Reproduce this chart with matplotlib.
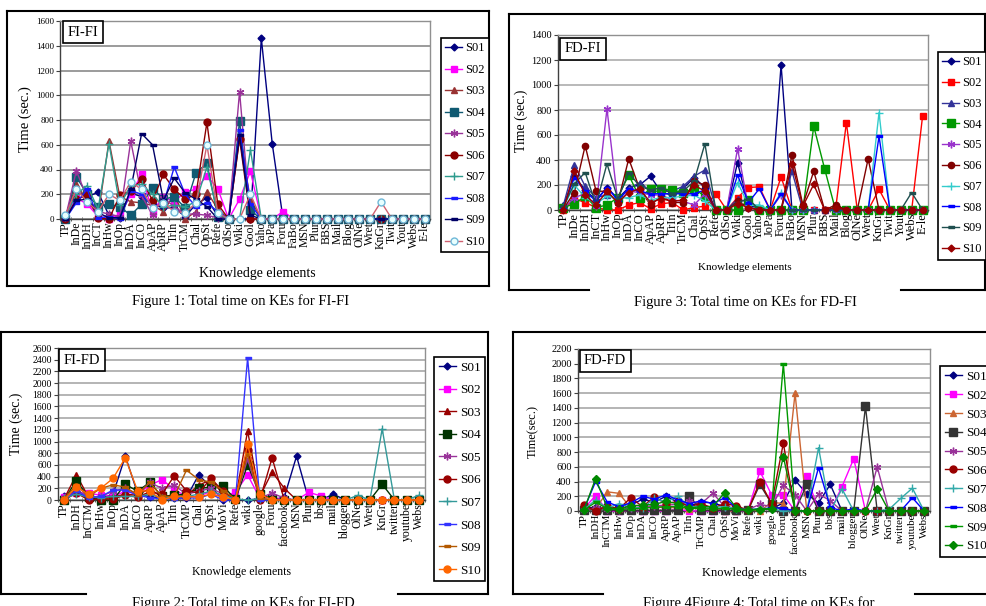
import matplotlib
matplotlib.use('Agg')
import matplotlib.pyplot as plt
from matplotlib.lines import Line2D

plt.rcParams['font.family'] = ['Liberation Serif', 'DejaVu Serif']

# ---------------- data ----------------
series_names = ['S01', 'S02', 'S03', 'S04', 'S05', 'S06', 'S07', 'S08', 'S09', 'S10']

cats_fi = ['TP', 'InDe', 'InDH', 'InCT', 'InHw', 'InOp', 'InDA', 'InCO', 'ApAP', 'ApRP',
           'TrIn', 'TrCM', 'Chal', 'OpSt', 'Refe', 'OlSo', 'Wiki', 'Gool', 'Yaho', 'JoPa',
           'Foru', 'FaBo', 'MSN', 'Plur', 'BBS', 'Mail', 'Blog', 'OlNe', 'Wret', 'KnGr',
           'Twit', 'Yout', 'Webs', 'E-le']

cats_fd = ['TP', 'InDH', 'InCTM', 'InHw', 'InOp', 'InDA', 'InCO', 'ApRP', 'ApAP', 'TrIn',
           'TrCMP', 'Chal', 'OpSt', 'MoVi', 'Refe', 'wiki', 'google', 'Foru', 'facebook', 'MSN',
           'Plur', 'bbs', 'mail', 'blogger', 'OlNe', 'Wret', 'KnGr', 'twitter', 'youtube', 'Webs']

# Figure 1: FI-FI
fifi_s01 = [0, 220, 180, 215, 30, 10, 210, 180, 120, 90, 90, 20, 120, 170, 20, 0, 0, 0, 1460, 610, 0, 0, 0, 0, 0, 0, 0, 0, 0, 0, 0, 0, 0, 0]
fifi_s02 = [10, 170, 120, 20, 0, 40, 200, 360, 60, 180, 140, 220, 240, 350, 245, 0, 160, 385, 0, 0, 60, 0, 0, 0, 0, 0, 0, 0, 0, 0, 0, 0, 0, 0]
fifi_s03 = [20, 280, 150, 30, 630, 180, 140, 130, 110, 60, 200, 0, 60, 220, 80, 0, 650, 160, 0, 0, 0, 0, 0, 0, 0, 0, 0, 0, 0, 0, 0, 0, 0, 0]
fifi_s04 = [0, 340, 200, 100, 120, 100, 30, 120, 250, 160, 180, 90, 375, 450, 20, 0, 790, 70, 0, 0, 0, 0, 0, 0, 0, 0, 0, 0, 0, 0, 0, 0, 0, 0]
fifi_s05 = [10, 390, 170, 60, 40, 20, 630, 190, 30, 170, 100, 40, 40, 30, 10, 0, 1030, 0, 0, 0, 0, 0, 0, 0, 0, 0, 0, 0, 0, 0, 0, 0, 0, 0]
fifi_s06 = [0, 160, 190, 10, 0, 190, 230, 320, 150, 360, 240, 160, 200, 780, 120, 0, 650, 0, 0, 0, 0, 0, 0, 0, 0, 0, 0, 0, 0, 0, 0, 0, 0, 0]
fifi_s07 = [20, 200, 270, 80, 610, 110, 270, 280, 200, 100, 110, 100, 140, 420, 40, 0, 0, 560, 0, 0, 0, 0, 0, 0, 0, 0, 0, 0, 0, 0, 0, 0, 0, 0]
fifi_s08 = [0, 130, 240, 10, 20, 0, 230, 200, 100, 120, 420, 200, 100, 130, 60, 0, 720, 120, 0, 0, 0, 0, 0, 0, 0, 0, 0, 0, 0, 0, 0, 0, 0, 0]
fifi_s09 = [0, 150, 160, 50, 10, 10, 240, 690, 600, 150, 330, 210, 160, 100, 0, 0, 680, 30, 0, 0, 0, 0, 0, 0, 0, 0, 0, 0, 0, 0, 0, 0, 0, 0]
fifi_s10 = [30, 240, 140, 60, 200, 150, 300, 240, 90, 130, 60, 50, 130, 600, 50, 0, 0, 200, 0, 0, 0, 0, 0, 0, 0, 0, 0, 0, 0, 140, 0, 0, 0, 0]

# Figure 3: FD-FI
fdfi_s01 = [30, 270, 160, 80, 180, 90, 180, 200, 270, 140, 120, 170, 260, 180, 0, 0, 380, 30, 20, 0, 1160, 0, 0, 0, 0, 0, 0, 0, 0, 0, 0, 0, 0, 0]
fdfi_s02 = [0, 90, 60, 20, 0, 0, 40, 60, 10, 50, 60, 0, 20, 30, 130, 0, 100, 180, 185, 0, 265, 0, 0, 0, 0, 0, 700, 0, 0, 165, 0, 0, 0, 750]
fdfi_s03 = [40, 360, 190, 100, 120, 80, 170, 220, 150, 150, 150, 190, 270, 320, 10, 0, 90, 60, 20, 0, 0, 310, 0, 0, 0, 0, 0, 0, 0, 0, 0, 0, 0, 0]
fdfi_s04 = [20, 50, 110, 20, 40, 100, 280, 100, 170, 170, 160, 140, 170, 110, 0, 0, 0, 80, 0, 0, 0, 0, 0, 670, 330, 0, 0, 0, 0, 0, 0, 0, 0, 0]
fdfi_s05 = [10, 100, 130, 30, 810, 60, 150, 140, 120, 120, 80, 70, 40, 130, 0, 0, 490, 20, 0, 0, 120, 0, 0, 0, 0, 0, 0, 0, 0, 0, 0, 0, 0, 0]
fdfi_s06 = [10, 140, 515, 150, 150, 60, 410, 170, 40, 110, 60, 60, 230, 200, 0, 0, 70, 20, 0, 0, 0, 440, 40, 310, 0, 40, 0, 0, 410, 0, 0, 0, 0, 0]
fdfi_s07 = [20, 200, 100, 50, 110, 90, 100, 120, 80, 100, 100, 110, 120, 70, 0, 0, 220, 40, 40, 0, 140, 0, 0, 0, 0, 0, 0, 0, 0, 780, 0, 0, 0, 0]
fdfi_s08 = [20, 260, 150, 70, 180, 80, 170, 150, 130, 130, 130, 130, 130, 160, 0, 0, 280, 60, 170, 0, 130, 0, 0, 0, 0, 0, 0, 0, 0, 590, 0, 0, 0, 0]
fdfi_s09 = [30, 210, 300, 40, 370, 90, 300, 190, 160, 180, 130, 150, 230, 530, 0, 0, 60, 90, 0, 0, 0, 0, 0, 0, 0, 0, 0, 0, 0, 0, 0, 0, 140, 0]
fdfi_s10 = [0, 310, 120, 40, 150, 60, 140, 170, 60, 90, 70, 80, 200, 150, 0, 0, 50, 20, 0, 0, 0, 370, 30, 205, 0, 20, 0, 0, 0, 0, 0, 0, 0, 0]

# Figure 2: FI-FD
fifd_s01 = [60, 150, 20, 30, 100, 750, 120, 50, 40, 30, 40, 430, 220, 0, 10, 0, 20, 0, 50, 750, 0, 0, 100, 0, 0, 0, 0, 0, 0, 0]
fifd_s02 = [50, 120, 120, 80, 60, 150, 100, 250, 350, 180, 60, 60, 150, 60, 130, 430, 30, 50, 0, 0, 130, 70, 0, 0, 0, 0, 0, 0, 0, 0]
fifd_s03 = [20, 430, 50, 40, 50, 100, 80, 200, 40, 100, 80, 250, 350, 100, 10, 1180, 60, 480, 200, 0, 0, 0, 0, 0, 0, 0, 0, 0, 0, 0]
fifd_s04 = [0, 330, 50, 0, 0, 270, 150, 300, 60, 80, 100, 200, 220, 240, 10, 600, 100, 20, 0, 0, 0, 0, 0, 0, 0, 0, 270, 0, 0, 0]
fifd_s05 = [40, 180, 50, 60, 150, 200, 100, 300, 200, 250, 100, 150, 200, 100, 20, 700, 30, 120, 30, 0, 0, 0, 0, 0, 0, 0, 0, 0, 0, 0]
fifd_s06 = [0, 120, 0, 20, 20, 80, 50, 140, 100, 410, 160, 120, 370, 150, 0, 860, 0, 720, 0, 0, 0, 0, 0, 0, 0, 0, 0, 0, 0, 0]
fifd_s07 = [30, 100, 50, 40, 60, 60, 60, 100, 30, 50, 60, 100, 150, 80, 20, 0, 20, 0, 0, 0, 0, 0, 0, 0, 80, 0, 1220, 0, 0, 80]
fifd_s08 = [20, 150, 40, 60, 170, 170, 80, 40, 20, 20, 40, 30, 100, 0, 0, 2430, 0, 0, 0, 0, 0, 0, 0, 0, 0, 0, 0, 0, 0, 0]
fifd_s09 = [30, 250, 60, 200, 260, 220, 90, 300, 60, 60, 510, 350, 300, 160, 20, 780, 30, 0, 0, 0, 0, 0, 0, 0, 0, 0, 0, 0, 0, 0]
fifd_s10 = [0, 220, 100, 200, 370, 720, 160, 150, 0, 60, 60, 50, 100, 50, 0, 950, 100, 0, 0, 0, 0, 0, 0, 0, 0, 0, 0, 0, 0, 0]

# Figure 4: FD-FD
fdfd_s01 = [40, 50, 30, 20, 80, 160, 120, 200, 120, 70, 120, 110, 60, 20, 10, 20, 30, 110, 420, 230, 110, 360, 0, 0, 0, 0, 0, 0, 0, 0]
fdfd_s02 = [30, 210, 0, 0, 10, 0, 0, 0, 20, 0, 0, 0, 0, 0, 10, 540, 220, 220, 0, 480, 0, 0, 330, 710, 0, 0, 0, 0, 0, 0]
fdfd_s03 = [20, 30, 260, 240, 40, 50, 60, 40, 50, 30, 40, 50, 0, 0, 20, 0, 120, 100, 1600, 0, 0, 0, 0, 0, 0, 0, 0, 0, 0, 0]
fdfd_s04 = [10, 20, 10, 10, 10, 10, 10, 10, 10, 200, 10, 10, 10, 10, 10, 360, 100, 0, 0, 360, 0, 0, 0, 0, 1420, 0, 0, 0, 0, 0]
fdfd_s05 = [20, 40, 30, 20, 40, 60, 70, 80, 90, 130, 100, 240, 60, 40, 20, 90, 60, 350, 220, 0, 230, 140, 0, 0, 0, 600, 0, 0, 0, 0]
fdfd_s06 = [80, 0, 70, 30, 180, 60, 190, 100, 130, 60, 100, 40, 100, 70, 10, 400, 100, 920, 0, 0, 0, 0, 0, 0, 0, 0, 0, 0, 0, 0]
fdfd_s07 = [20, 150, 40, 100, 50, 40, 170, 120, 200, 60, 60, 50, 60, 30, 20, 30, 30, 0, 0, 0, 860, 0, 300, 0, 0, 0, 20, 170, 310, 0]
fdfd_s08 = [20, 400, 120, 60, 110, 200, 160, 220, 150, 100, 140, 100, 180, 40, 10, 30, 40, 40, 0, 0, 590, 50, 0, 30, 0, 0, 0, 0, 180, 0]
fdfd_s09 = [10, 120, 30, 20, 30, 40, 50, 60, 60, 40, 30, 30, 40, 20, 10, 30, 30, 2000, 0, 0, 0, 0, 0, 0, 0, 0, 0, 0, 0, 0]
fdfd_s10 = [10, 440, 40, 30, 70, 80, 90, 130, 100, 40, 60, 60, 250, 40, 10, 20, 30, 740, 0, 0, 0, 0, 0, 0, 0, 300, 0, 0, 0, 0]

# ---------------- styles ----------------
DASH = [(-1, -0.35), (1, -0.35), (1, 0.35), (-1, 0.35)]
STAR = (6, 2, 0)

def st(color, marker, ms, mfc=None, mec=None):
    return dict(color=color, marker=marker, ms=ms,
                mfc=mfc if mfc else color, mec=mec if mec else color)

styles_p1 = [st('#000080', 'D', 3.5), st('#FF00FF', 's', 4.5), st('#993333', '^', 4.5),
             st('#105A72', 's', 5.5), st('#993399', STAR, 5.5), st('#8B0000', 'o', 5),
             st('#2E9C8E', '+', 6), st('#1A1AFF', DASH, 5), st('#000066', DASH, 5),
             st('#D06070', 'o', 5, '#E8FFFF', '#70B8D8')]
styles_p2 = [st('#000080', 'D', 3.5), st('#FF0000', 's', 4.5), st('#333399', '^', 4.5),
             st('#009900', 's', 5.5), st('#9933CC', STAR, 5.5), st('#800000', 'o', 4.5),
             st('#33CCCC', '+', 6), st('#0000FF', DASH, 5), st('#1F4F4F', DASH, 5),
             st('#990000', 'D', 3.5)]
styles_p3 = [st('#000080', 'D', 3.5), st('#FF00FF', 's', 5), st('#990000', '^', 4.5),
             st('#003300', 's', 6), st('#993399', STAR, 5.5), st('#990000', 'o', 5),
             st('#339999', '+', 6), st('#3333FF', DASH, 5), st('#B35900', DASH, 5),
             st('#FF6600', 'o', 5)]
styles_p4 = [st('#000080', 'D', 3.5), st('#FF00FF', 's', 5), st('#CC6633', '^', 4.5),
             st('#333333', 's', 6), st('#993399', STAR, 5.5), st('#990000', 'o', 5),
             st('#33AAAA', '+', 6), st('#0000FF', DASH, 5), st('#009900', DASH, 5),
             st('#008800', 'D', 4)]

W, H = 986, 606
fig = plt.figure(figsize=(W / 100, H / 100), dpi=100)


def frect(x0, y0, x1, y1):
    return [x0 / W, 1 - y1 / H, (x1 - x0) / W, (y1 - y0) / H]


def fx(x):
    return x / W


def fy(y):
    return 1 - y / H


def hline(x0, x1, y, lw=1.5):
    fig.add_artist(Line2D([fx(x0), fx(x1)], [fy(y), fy(y)], color='black', lw=lw,
                          transform=fig.transFigure))


def vline(x, y0, y1, lw=1.5):
    fig.add_artist(Line2D([fx(x), fx(x)], [fy(y0), fy(y1)], color='black', lw=lw,
                          transform=fig.transFigure))


def panel(plot_px, cats, data, styles, ymax, ystep, grid_color, ytick_fs, xtick_fs,
          tag, tag_xy, ylabel, ylabel_xy, ylab_fs, xlab_xy, xlab_fs, leg_xy, leg_fs, leg_sp):
    ax = fig.add_axes(frect(*plot_px))
    n = len(cats)
    xs = list(range(n))
    handles = []
    for name, vals, s in zip(series_names, data, styles):
        h, = ax.plot(xs, vals, color=s['color'], lw=1.0, marker=s['marker'], ms=s['ms'],
                     mfc=s['mfc'], mec=s['mec'], mew=1.0, clip_on=False, zorder=3)
        handles.append(h)
    ax.set_xlim(-0.5, n - 0.5)
    ax.set_ylim(0, ymax)
    ax.set_yticks(list(range(0, ymax + 1, ystep)))
    ax.set_xticks(xs)
    ax.set_xticklabels(cats, rotation=90, fontsize=xtick_fs)
    ax.set_xticks([i - 0.5 for i in range(n + 1)], minor=True)
    ax.tick_params(axis='x', which='major', length=0, pad=2)
    ax.tick_params(axis='x', which='minor', length=3, direction='inout', color='#404040')
    ax.tick_params(axis='y', labelsize=ytick_fs, length=3, pad=1.5, color='#404040')
    ax.yaxis.grid(True, color=grid_color, lw=1.1)
    ax.set_axisbelow(True)
    for sp in ax.spines.values():
        sp.set_color('#909090')
        sp.set_linewidth(1.0)
    ax.spines['left'].set_color('#404040')
    ax.spines['bottom'].set_color('#404040')
    fig.text(fx(tag_xy[0]), fy(tag_xy[1]), tag, ha='center', va='center', fontsize=10.5,
             zorder=10,
             bbox=dict(boxstyle='square,pad=0.3', fc='white', ec='black', lw=1.2))
    fig.text(fx(ylabel_xy[0]), fy(ylabel_xy[1]), ylabel, rotation=90, ha='center',
             va='center', fontsize=ylab_fs)
    fig.text(fx(xlab_xy[0]), fy(xlab_xy[1]), 'Knowledge elements', ha='center',
             va='center', fontsize=xlab_fs)
    leg = fig.legend(handles, series_names, loc='upper left',
                     bbox_to_anchor=(fx(leg_xy[0]), fy(leg_xy[1])),
                     bbox_transform=fig.transFigure, frameon=True, fancybox=False,
                     edgecolor='black', framealpha=1, fontsize=leg_fs,
                     labelspacing=leg_sp, handlelength=1.3, handletextpad=0.3,
                     borderpad=0.35, borderaxespad=0)
    leg.get_frame().set_linewidth(1.2)
    return ax


# Panel 1: FI-FI
panel((60, 21, 430, 219), cats_fi,
      [fifi_s01, fifi_s02, fifi_s03, fifi_s04, fifi_s05, fifi_s06, fifi_s07, fifi_s08, fifi_s09, fifi_s10],
      styles_p1, 1600, 200, '#808080', 6.5, 8.5,
      'FI-FI', (83, 32), 'Time (sec.)', (25, 119), 10.5, (257, 273), 10,
      (441, 38), 9, 0.76)

# Panel 2: FD-FI
panel((558, 35, 928, 210), cats_fi,
      [fdfi_s01, fdfi_s02, fdfi_s03, fdfi_s04, fdfi_s05, fdfi_s06, fdfi_s07, fdfi_s08, fdfi_s09, fdfi_s10],
      styles_p2, 1400, 200, '#A6A6A6', 7.5, 9,
      'FD-FI', (583, 49), 'Time (sec.)', (521, 121), 10, (745, 268), 8,
      (938, 52), 9, 0.70)

# Panel 3: FI-FD
panel((58, 348, 425, 500), cats_fd,
      [fifd_s01, fifd_s02, fifd_s03, fifd_s04, fifd_s05, fifd_s06, fifd_s07, fifd_s08, fifd_s09, fifd_s10],
      styles_p3, 2600, 200, '#A0A0A0', 7, 8.5,
      'FI-FD', (82, 360), 'Time (sec.)', (16, 424), 10, (242, 572), 8.5,
      (434, 357), 9.5, 0.78)

# Panel 4: FD-FD
panel((578, 349, 930, 511), cats_fd,
      [fdfd_s01, fdfd_s02, fdfd_s03, fdfd_s04, fdfd_s05, fdfd_s06, fdfd_s07, fdfd_s08, fdfd_s09, fdfd_s10],
      styles_p4, 2200, 200, '#A0A0A0', 7.5, 8,
      'FD-FD', (605, 361), 'Time(sec.)', (533, 431), 9, (754, 573), 9,
      (940, 366), 9.5, 0.5)

# outer frames
# panel 1
vline(7, 11, 286); vline(489, 11, 286); hline(7, 489, 11); hline(7, 489, 286)
# panel 2
vline(509, 14, 290); vline(985, 14, 290); hline(509, 985, 14)
hline(509, 589, 290); hline(901, 985, 290)
# panel 3
vline(1, 332, 594); vline(488, 332, 594); hline(1, 488, 332)
hline(1, 86, 594); hline(398, 488, 594)
# panel 4
vline(513, 332, 594); hline(513, 986, 332)
hline(513, 603, 594); hline(915, 986, 594)

# captions
cap_fs = 10.5
fig.text(fx(241), fy(301), 'Figure 1: Total time on KEs for FI-FI', ha='center', va='center', fontsize=cap_fs)
fig.text(fx(745), fy(302), 'Figure 3: Total time on KEs for FD-FI', ha='center', va='center', fontsize=cap_fs)
fig.text(fx(243), fy(596), 'Figure 2: Total time on KEs for FI-FD', ha='center', va='top', fontsize=cap_fs)
fig.text(fx(759), fy(596), 'Figure 4Figure 4: Total time on KEs for', ha='center', va='top', fontsize=cap_fs)

fig.savefig('out.png', dpi=100)
